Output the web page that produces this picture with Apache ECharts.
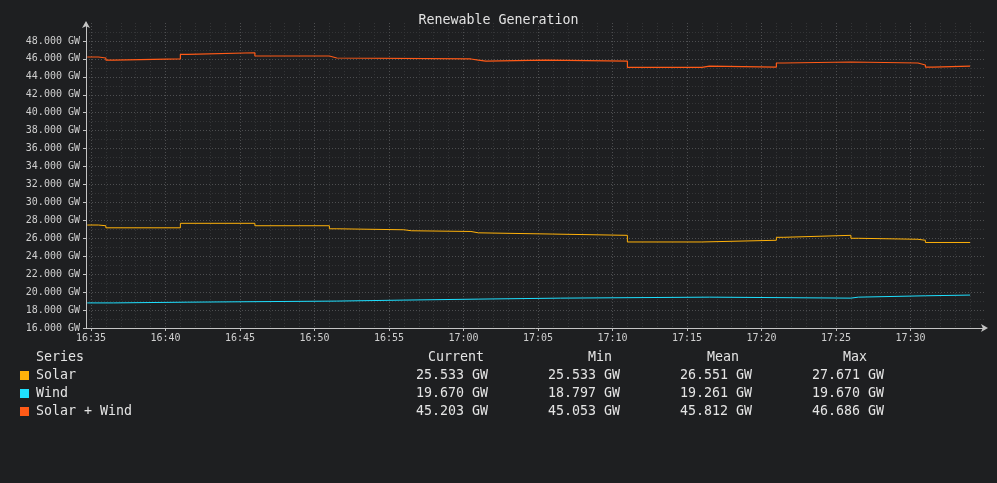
<!DOCTYPE html>
<html lang="en">
<head>
<meta charset="UTF-8">
<title>Renewable Generation</title>
<script src="https://cdn.jsdelivr.net/npm/echarts@6/dist/echarts.min.js"></script>
<style>
  html, body { margin: 0; padding: 0; background: #1e1f21; }
  #container { width: 997px; height: 483px; }
</style>
</head>
<body>
<div id="container"></div>
<script>
// x values are minutes after 16:35, y values in GW
// each point starts a step that holds until the next one
const solarTimes = [-0.25, 0.5, 1.0, 6.0, 11.0, 16.0, 16.5, 21.0, 21.5, 25.5, 26.0, 31.0, 36.0, 41.0, 46.0, 46.5, 51.0, 51.5, 55.5, 56.0, 59.0];
const solarValues = [27.48, 27.40, 27.17, 27.671, 27.40, 27.06, 26.95, 26.84, 26.76, 26.61, 26.47, 26.33, 25.59, 25.78, 26.11, 26.33, 26.00, 25.89, 25.78, 25.533, 25.533];

const windTimes = [-0.25, 1.5, 6.5, 16.5, 21.0, 26.0, 31.5, 41.5, 51.0, 51.5, 56.0, 59.0];
const windValues = [18.797, 18.88, 19.00, 19.11, 19.22, 19.33, 19.44, 19.33, 19.44, 19.59, 19.67, 19.67];

const sumTimes = [-0.25, 0.5, 1.0, 1.5, 6.0, 6.5, 11.0, 16.0, 16.5, 25.5, 26.0, 26.5, 30.5, 36.0, 41.0, 41.5, 46.0, 46.5, 51.0, 55.5, 56.0, 56.5, 59.0];
const sumValues = [46.21, 46.10, 45.87, 45.99, 46.51, 46.686, 46.32, 46.10, 45.99, 45.87, 45.76, 45.87, 45.76, 45.053, 45.20, 45.09, 45.54, 45.65, 45.54, 45.32, 45.09, 45.203, 45.203];

// table under the chart
const seriesNames = ['Solar', 'Wind', 'Solar + Wind'];
const seriesColors = ['#ffb20a', '#1fe0ff', '#ff5a17'];
const columnHeads = ['Current', 'Min', 'Mean', 'Max'];
const currentText = ['25.533 GW', '19.670 GW', '45.203 GW'];
const minText = ['25.533 GW', '18.797 GW', '45.053 GW'];
const meanText = ['26.551 GW', '19.261 GW', '45.812 GW'];
const maxText = ['27.671 GW', '19.670 GW', '46.686 GW'];

const FONT = '"DejaVu Sans Mono", monospace';
const TABLE_FONT = '13.3px ' + FONT;
const TEXT_COLOR = '#e4e4e4';

const pairs = (t, v) => t.map((x, i) => [x, v[i]]);

const hhmm = (m) => {
  const total = 16 * 60 + 35 + Math.round(m);
  const h = Math.floor(total / 60), mm = total % 60;
  return String(h).padStart(2, '0') + ':' + String(mm).padStart(2, '0');
};

// build the legend table as plain graphic texts
const graphic = [];
const headY = 358;
const rowY = [375.5, 393.5, 411.5];
const headX = [428, 588, 707, 843];
const valX = [416, 548, 680, 812];
graphic.push({ type: 'text', x: 36, y: headY, silent: true,
  style: { text: 'Series', font: TABLE_FONT, fill: TEXT_COLOR, verticalAlign: 'middle' } });
columnHeads.forEach((h, i) => {
  graphic.push({ type: 'text', x: headX[i], y: headY, silent: true,
    style: { text: h, font: TABLE_FONT, fill: TEXT_COLOR, verticalAlign: 'middle' } });
});
const columns = [currentText, minText, meanText, maxText];
seriesNames.forEach((name, r) => {
  graphic.push({ type: 'rect', silent: true,
    shape: { x: 20, y: rowY[r] - 4.5, width: 9, height: 9 },
    style: { fill: seriesColors[r] } });
  graphic.push({ type: 'text', x: 36, y: rowY[r], silent: true,
    style: { text: name, font: TABLE_FONT, fill: TEXT_COLOR, verticalAlign: 'middle' } });
  columns.forEach((col, c) => {
    graphic.push({ type: 'text', x: valX[c], y: rowY[r], silent: true,
      style: { text: col[r], font: TABLE_FONT, fill: TEXT_COLOR, verticalAlign: 'middle' } });
  });
});

const majorGrid = { color: '#4d4e50', width: 1, type: [1, 2] };
const minorGrid = { color: '#343537', width: 1, type: [1, 2] };
const axisLineStyle = { color: '#c4c4c4', width: 1 };
const labelStyle = { color: '#cfcfcf', fontFamily: FONT, fontSize: 10 };

const option = {
  backgroundColor: '#1e1f21',
  animation: false,
  title: {
    text: 'Renewable Generation',
    left: 'center',
    top: 9,
    textStyle: { color: '#e2e2e2', fontFamily: FONT, fontSize: 13.3, fontWeight: 'normal' }
  },
  grid: { left: 86, right: 12, top: 23, bottom: 155, containLabel: false },
  xAxis: {
    type: 'value',
    min: -1 / 3,
    max: 60,
    minInterval: 5,
    maxInterval: 5,
    axisLine: { show: true, onZero: false, symbol: ['none', 'arrow'], symbolSize: [6, 7], symbolOffset: [0, 3], lineStyle: axisLineStyle },
    axisTick: { show: true, length: 3, lineStyle: axisLineStyle },
    axisLabel: Object.assign({ margin: 5, showMinLabel: false, showMaxLabel: false,
      formatter: (v) => hhmm(v) }, labelStyle),
    splitLine: { show: true, showMinLine: false, showMaxLine: false, lineStyle: majorGrid },
    minorTick: { show: false, splitNumber: 5 },
    minorSplitLine: { show: true, lineStyle: minorGrid }
  },
  yAxis: {
    type: 'value',
    min: 16,
    max: 50,
    interval: 2,
    axisLine: { show: true, onZero: false, symbol: ['none', 'arrow'], symbolSize: [6, 7], symbolOffset: [0, 2], lineStyle: axisLineStyle },
    axisTick: { show: true, length: 3, lineStyle: axisLineStyle },
    axisLabel: Object.assign({ margin: 6, showMaxLabel: false,
      formatter: (v) => v.toFixed(3) + ' GW' }, labelStyle),
    splitLine: { show: true, showMinLine: false, showMaxLine: false, lineStyle: majorGrid },
    minorTick: { show: false, splitNumber: 2 },
    minorSplitLine: { show: true, lineStyle: minorGrid }
  },
  series: [
    { name: 'Solar', type: 'line', step: 'end', showSymbol: false, symbol: 'none',
      data: pairs(solarTimes, solarValues), lineStyle: { color: seriesColors[0], width: 1 } },
    { name: 'Wind', type: 'line', step: 'end', showSymbol: false, symbol: 'none',
      data: pairs(windTimes, windValues), lineStyle: { color: seriesColors[1], width: 1 } },
    { name: 'Solar + Wind', type: 'line', step: 'end', showSymbol: false, symbol: 'none',
      data: pairs(sumTimes, sumValues), lineStyle: { color: seriesColors[2], width: 1.2 } }
  ],
  graphic: graphic
};

const chart = echarts.init(document.getElementById('container'));
chart.setOption(option);
</script>
</body>
</html>
